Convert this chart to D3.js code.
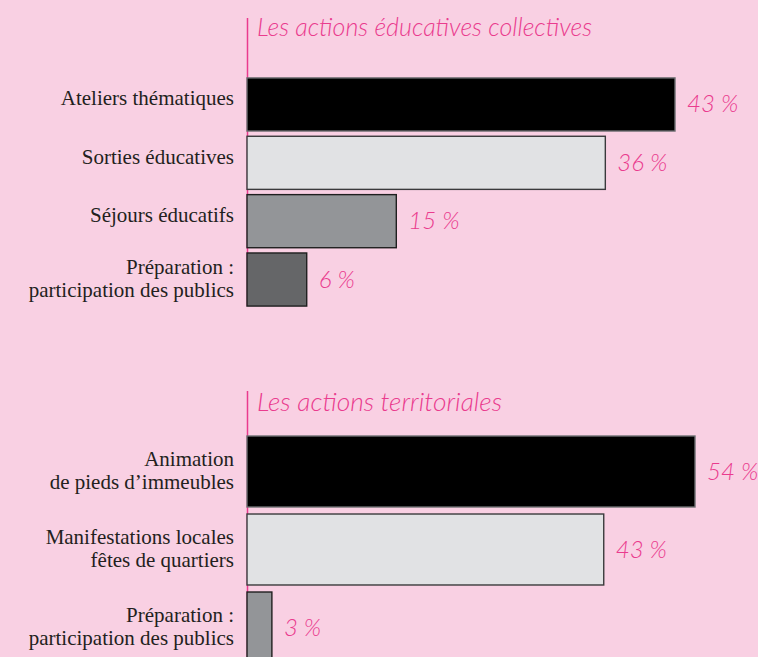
<!DOCTYPE html>
<html lang="fr">
<head>
<meta charset="utf-8">
<script src="https://cdn.jsdelivr.net/npm/d3@7"></script>
<style>
  html, body { margin: 0; padding: 0; background: #f9d0e3; }
  svg { display: block; }
</style>
</head>
<body>
<svg id="chart" width="758" height="657"></svg>
<script>
// Actions éducatives collectives
const educTitle = "Les actions éducatives collectives";
const educLabels = [
  ["Ateliers thématiques"],
  ["Sorties éducatives"],
  ["Séjours éducatifs"],
  ["Préparation :", "participation des publics"]
];
const educValues = [43, 36, 15, 6];

// Actions territoriales
const terrTitle = "Les actions territoriales";
const terrLabels = [
  ["Animation", "de pieds d’immeubles"],
  ["Manifestations locales", "fêtes de quartiers"],
  ["Préparation :", "participation des publics"]
];
const terrValues = [54, 43, 3];

const fills = ["#000000", "#e1e2e4", "#939598", "#656668"];
const strokes = ["#6d6e71", "#3a3a3c", "#1f1f1f", "#1f1f1f"];
const pink = "#ea3b8e";

const svg = d3.select("#chart");
const x0 = 247;

function panel(cfg) {
  const g = svg.append("g");
  const n = cfg.values.length;

  const y = d3.scaleBand()
    .domain(d3.range(n))
    .range([cfg.yTop, cfg.yTop + cfg.step * n])
    .paddingInner(0.09)
    .paddingOuter(0.045);

  const x = d3.scaleLinear()
    .domain([0, d3.max(cfg.values)])
    .range([x0, x0 + cfg.maxWidth]);

  // vertical pink rule
  g.append("line")
    .attr("x1", x0 + 0.5).attr("x2", x0 + 0.5)
    .attr("y1", cfg.ruleTop).attr("y2", cfg.ruleBottom)
    .attr("stroke", pink).attr("stroke-width", 1.5);

  // section title
  g.append("text")
    .attr("x", 257).attr("y", cfg.titleY)
    .attr("fill", pink)
    .attr("font-family", "Lato, 'Open Sans', sans-serif")
    .attr("font-style", "italic")
    .attr("font-weight", 300)
    .attr("font-size", 25)
    .attr("textLength", cfg.titleLen)
    .attr("lengthAdjust", "spacingAndGlyphs")
    .text(cfg.title);

  // bars
  g.selectAll("rect.bar")
    .data(cfg.values)
    .join("rect")
    .attr("class", "bar")
    .attr("x", x(0))
    .attr("y", (d, i) => y(i))
    .attr("width", d => x(d) - x(0))
    .attr("height", y.bandwidth())
    .attr("fill", (d, i) => fills[i])
    .attr("stroke", (d, i) => strokes[i])
    .attr("stroke-width", 1.4);

  // value labels
  g.selectAll("text.val")
    .data(cfg.values)
    .join("text")
    .attr("class", "val")
    .attr("x", d => x(d) + 12)
    .attr("y", (d, i) => y(i) + y.bandwidth() / 2 + 8)
    .attr("fill", pink)
    .attr("font-family", "Lato, 'Open Sans', sans-serif")
    .attr("font-style", "italic")
    .attr("font-weight", 300)
    .attr("font-size", 24)
    .text(d => d + " %");

  // category labels
  const lab = g.selectAll("text.cat")
    .data(cfg.labels)
    .join("text")
    .attr("class", "cat")
    .attr("text-anchor", "end")
    .attr("fill", "#231f20")
    .attr("font-family", "'Liberation Serif', 'DejaVu Serif', serif")
    .attr("font-size", 21);

  lab.each(function (lines, i) {
    const cy = y(i) + y.bandwidth() / 2;
    const t = d3.select(this);
    const first = lines.length === 1 ? cy + 1 : cy - 6;
    lines.forEach((s, k) => {
      t.append("tspan")
        .attr("x", 234)
        .attr("y", first + k * 23.5)
        .text(s);
    });
  });
}

panel({
  title: educTitle, titleY: 36, titleLen: 335,
  labels: educLabels, values: educValues,
  yTop: 75.3, step: 58.35, maxWidth: 428,
  ruleTop: 18, ruleBottom: 306
});

panel({
  title: terrTitle, titleY: 411, titleLen: 245,
  labels: terrLabels, values: terrValues,
  yTop: 432.5, step: 78, maxWidth: 448,
  ruleTop: 391, ruleBottom: 657
});
</script>
</body>
</html>
